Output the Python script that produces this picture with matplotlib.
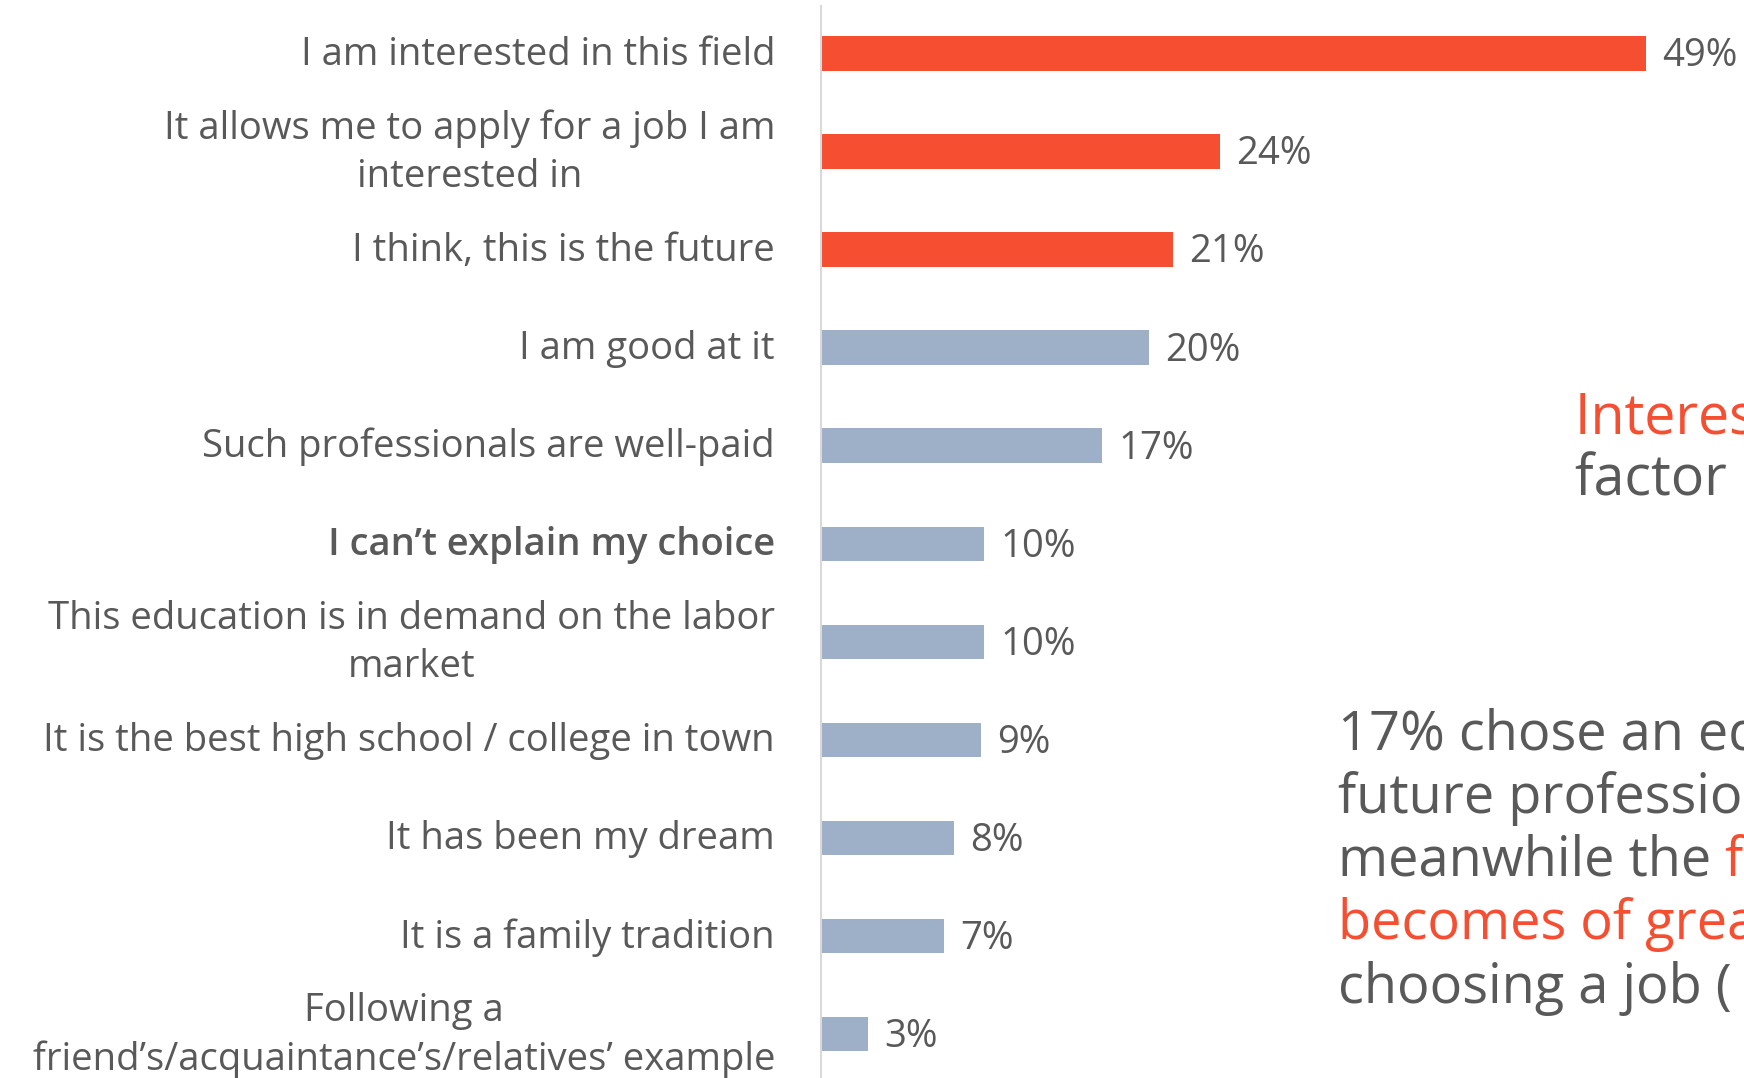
import matplotlib.pyplot as plt
from matplotlib.transforms import offset_copy

plt.rcParams['font.family'] = ['Open Sans', 'DejaVu Sans']

# reasons for choosing the education, top to bottom
reasons = ['I am interested in this field',
           'It allows me to apply for a job I am\ninterested in',
           'I think, this is the future',
           'I am good at it',
           'Such professionals are well-paid',
           'I can\u2019t explain my choice',
           'This education is in demand on the labor\nmarket',
           'It is the best high school / college in town',
           'It has been my dream',
           'It is a family tradition',
           'Following a\nfriend\u2019s/acquaintance\u2019s/relatives\u2019 example']
shares = [49.0, 23.7, 20.9, 19.5, 16.7, 9.7, 9.7, 9.5, 7.9, 7.3, 2.8]
share_labels = ['49%', '24%', '21%', '20%', '17%', '10%', '10%', '9%', '8%', '7%', '3%']
highlight = [True, True, True, False, False, False, False, False, False, False, False]

RED = '#F54E30'
BLUE = '#9DB0C8'
GREY = '#595959'

fig = plt.figure(figsize=(17.44, 10.78), dpi=100)
ax = fig.add_axes([821/1744, 0, 1 - 821/1744, 1072/1078])

ypos = list(range(len(reasons)))
colors = [RED if h else BLUE for h in highlight]
ax.barh(ypos, shares, height=0.35, color=colors)

val_tr = offset_copy(ax.transData, fig=fig, x=0, y=-3, units='dots')
for y, v, s in zip(ypos, shares, share_labels):
    ax.text(v + 0.95, y, s, va='center', ha='left', fontsize=27.5,
            color=GREY, transform=val_tr)

lab_tr = offset_copy(ax.get_yaxis_transform(), fig=fig, x=-46, y=-1.5, units='dots')
for i, (y, r) in enumerate(zip(ypos, reasons)):
    ax.text(0, y, r, va='center', ha='right', multialignment='center',
            linespacing=1.35, fontsize=27.5, color=GREY, transform=lab_tr,
            fontweight='semibold' if i == 5 else 'normal', clip_on=False)

ax.set_xlim(0, 54.8)
ax.set_ylim(10.449, -0.483)
ax.set_xticks([])
ax.set_yticks([])
for side in ['top', 'right', 'bottom']:
    ax.spines[side].set_visible(False)
ax.spines['left'].set_color('#D9D9D9')
ax.spines['left'].set_linewidth(1.5)

# annotation texts on the right (cut by the figure edge)
fig.canvas.draw()
renderer = fig.canvas.get_renderer()


def colored_line(x, y, pieces, size):
    # x, y in figure pixels (y from top), baseline placement
    for txt, col in pieces:
        t = fig.text(x / 1744, 1 - y / 1078, txt, fontsize=size, color=col,
                     va='baseline', ha='left')
        bb = t.get_window_extent(renderer=renderer)
        x += bb.width


colored_line(1575, 433, [('Interest is the main', RED)], 40)
colored_line(1575, 495, [('factor in choosing', GREY)], 40)

para = [[('17% chose an education for the', GREY)],
        [('future profession\u2019s high salary,', GREY)],
        [('meanwhile the ', GREY), ('financial factor', RED)],
        [('becomes of greater importance', RED)],
        [('choosing a job (', GREY)]]
for i, pieces in enumerate(para):
    colored_line(1338, 749 + i * 63.5, pieces, 39)

fig.savefig('out.png', dpi=100)
